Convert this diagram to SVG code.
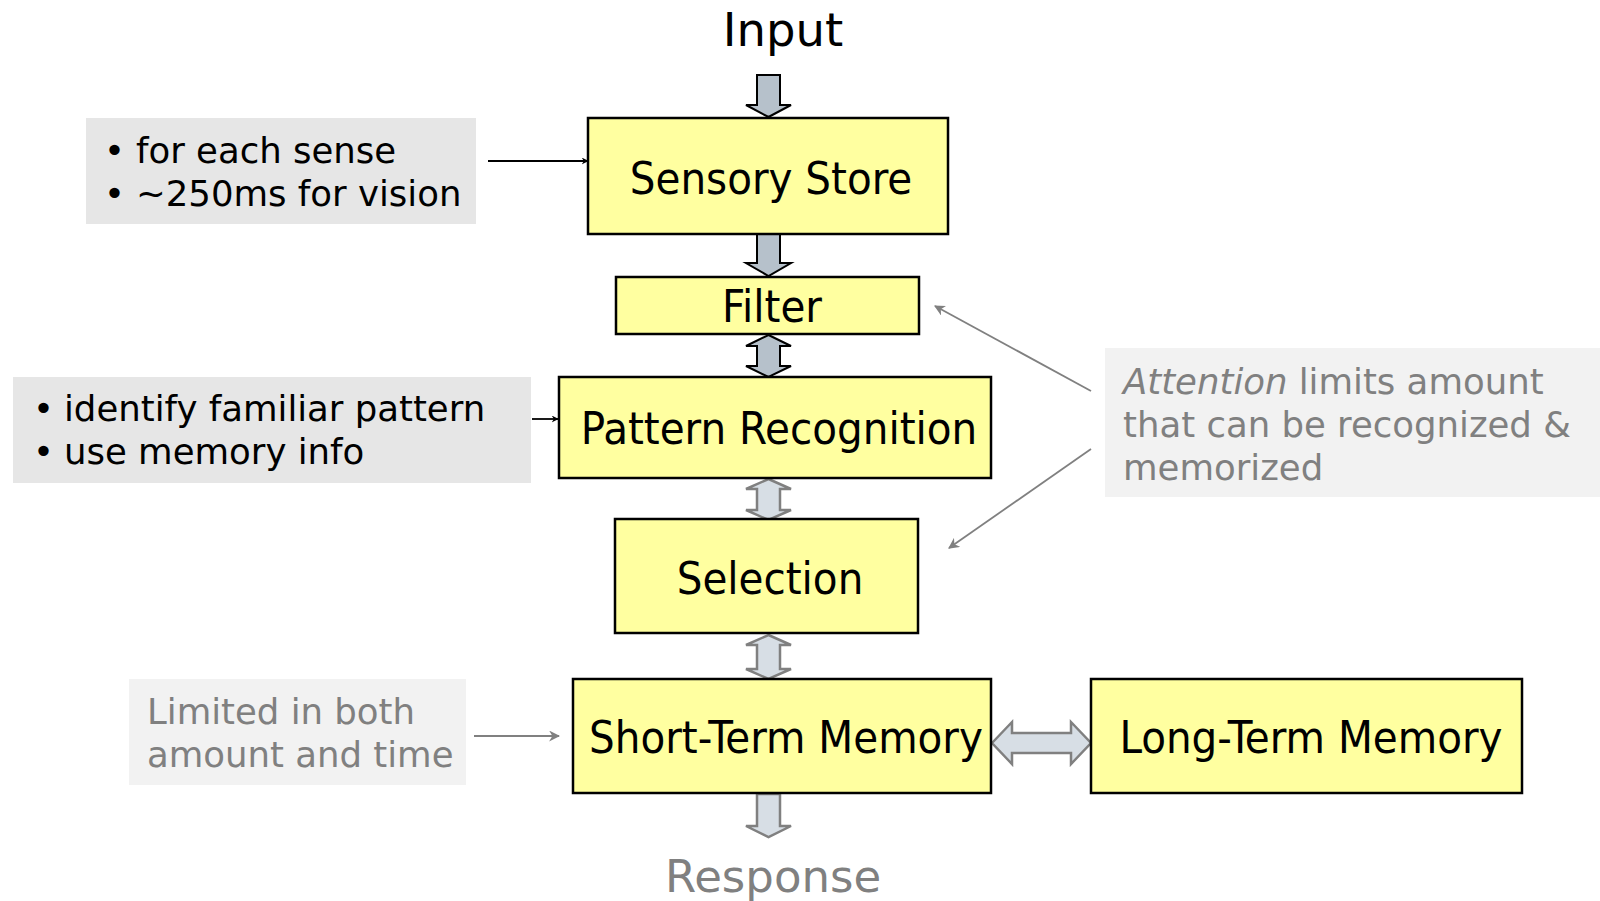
<svg xmlns="http://www.w3.org/2000/svg" width="1600" height="901" viewBox="0 0 1600 901">
<style>
.box{fill:#ffffa0;stroke:#000;stroke-width:2.5}
.bt{font-family:"DejaVu Sans Condensed","DejaVu Sans",sans-serif;font-size:45px;fill:#000;text-anchor:middle}
.side{font-family:"DejaVu Sans",Verdana,sans-serif;font-size:35.5px}
.dk{fill:#b6c1cb;stroke:#000;stroke-width:2;stroke-linejoin:miter}
.lt{fill:#d7dee5;stroke:#808080;stroke-width:2.5;stroke-linejoin:miter}
.ln{fill:none;stroke-width:1.8}
</style>
<defs>
<marker id="ab" viewBox="0 0 10 10" refX="9" refY="5" markerWidth="7" markerHeight="7" orient="auto" markerUnits="userSpaceOnUse"><path d="M0,0 L10,5 L0,10 L3,5 Z" fill="#000"/></marker>
<marker id="ag" viewBox="0 0 10 10" refX="9" refY="5" markerWidth="11" markerHeight="11" orient="auto" markerUnits="userSpaceOnUse"><path d="M0,0 L10,5 L0,10 L3,5 Z" fill="#808080"/></marker>
</defs>
<rect width="1600" height="901" fill="#fff"/>
<text x="783" y="46" font-family="DejaVu Sans,sans-serif" font-size="46.5" text-anchor="middle" fill="#000">Input</text>
<text x="773" y="892" font-family="DejaVu Sans,sans-serif" font-size="45" text-anchor="middle" fill="#808080">Response</text>
<g id="connectors">
<path class="dk" d="M757,75 H780 V105 H791 L768.5,117 L746,105 H757 Z"/>
<path class="dk" d="M757,234 H780 V263 H791 L768.5,276 L746,263 H757 Z"/>
<path class="dk" d="M768.5,335 L791,346 H780 V366 H791 L768.5,377 L746,366 H757 V346 H746 Z"/>
<path class="lt" d="M768.5,479 L791,489 H780 V510 H791 L768.5,520 L746,510 H757 V489 H746 Z"/>
<path class="lt" d="M768.5,635 L791,645 H780 V669 H791 L768.5,679 L746,669 H757 V645 H746 Z"/>
<path class="lt" d="M757,794 H780 V826 H791 L768.5,837 L746,826 H757 Z"/>
<path class="lt" d="M992,743 L1012,722 V733 H1071 V722 L1091,743 L1071,764 V753 H1012 V764 Z"/>
<line class="ln" x1="488" y1="161" x2="588" y2="161" stroke="#000" marker-end="url(#ab)"/>
<line class="ln" x1="532" y1="419" x2="558" y2="419" stroke="#000" marker-end="url(#ab)"/>
<line class="ln" x1="474" y1="736" x2="559" y2="736" stroke="#808080" marker-end="url(#ag)"/>
<line class="ln" x1="1091" y1="391" x2="935" y2="306" stroke="#808080" marker-end="url(#ag)"/>
<line class="ln" x1="1091" y1="449" x2="949" y2="548" stroke="#808080" marker-end="url(#ag)"/>
</g>
<g id="sensory"><rect class="box" x="588" y="118" width="360" height="116"/><text class="bt" x="771" y="194">Sensory Store</text></g>
<g id="filter"><rect class="box" x="616" y="277" width="303" height="57"/><text class="bt" x="772" y="322">Filter</text></g>
<g id="pattern"><rect class="box" x="559" y="377" width="432" height="101"/><text class="bt" x="779" y="444">Pattern Recognition</text></g>
<g id="selection"><rect class="box" x="615" y="519" width="303" height="114"/><text class="bt" x="770" y="594">Selection</text></g>
<g id="stm"><rect class="box" x="573" y="679" width="418" height="114"/><text class="bt" x="786" y="753">Short-Term Memory</text></g>
<g id="ltm"><rect class="box" x="1091" y="679" width="431" height="114"/><text class="bt" x="1311" y="753">Long-Term Memory</text></g>
<g id="note-sense"><rect x="86" y="118" width="390" height="106" fill="#e6e6e6"/>
<text class="side" fill="#000"><tspan x="104" y="163">•</tspan><tspan x="136" y="163">for each sense</tspan><tspan x="104" y="206">•</tspan><tspan x="136" y="206">~250ms for vision</tspan></text></g>
<g id="note-pattern"><rect x="13" y="377" width="518" height="106" fill="#e6e6e6"/>
<text class="side" fill="#000"><tspan x="33" y="421">•</tspan><tspan x="64" y="421">identify familiar pattern</tspan><tspan x="33" y="464">•</tspan><tspan x="64" y="464">use memory info</tspan></text></g>
<g id="note-stm"><rect x="129" y="679" width="337" height="106" fill="#f2f2f2"/>
<text class="side" fill="#808080"><tspan x="147" y="724">Limited in both</tspan><tspan x="147" y="767">amount and time</tspan></text></g>
<g id="note-attention"><rect x="1105" y="348" width="495" height="149" fill="#f2f2f2"/>
<text class="side" fill="#808080"><tspan x="1123" y="394"><tspan font-style="italic">Attention</tspan> limits amount</tspan><tspan x="1123" y="437">that can be recognized &amp;</tspan><tspan x="1123" y="480">memorized</tspan></text></g>
</svg>
